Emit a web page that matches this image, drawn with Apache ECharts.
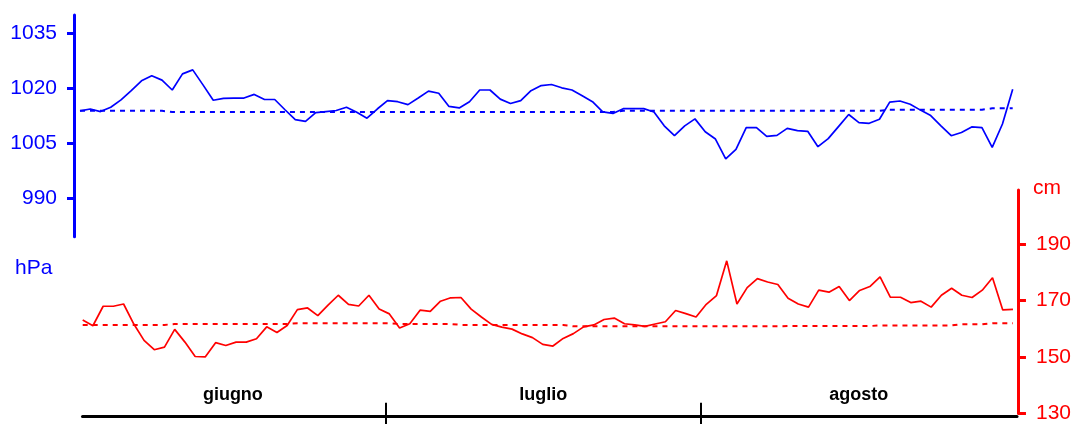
<!DOCTYPE html>
<html>
<head>
<meta charset="utf-8">
<title>Pressione e livello di marea – giugno-agosto</title>
<script src="https://cdn.jsdelivr.net/npm/echarts@6/dist/echarts.min.js"></script>
<style>
  html, body { margin: 0; padding: 0; background: #ffffff; }
  #chart { width: 1074px; height: 424px; }
</style>
</head>
<body>
<div id="chart"></div>
<script>
// Months shown on the time axis and their lengths in days
const months = ['giugno', 'luglio', 'agosto'];
const monthDays = [30, 31, 31];

// Daily atmospheric pressure (hPa), 1 June – 31 August
const pressure = [
  1013.8, 1014.3, 1013.6, 1014.8, 1016.8, 1019.3, 1022.0, 1023.4, 1022.2, 1019.5,
  1023.9, 1025.0, 1020.9, 1016.7, 1017.2, 1017.3, 1017.3, 1018.3, 1016.9, 1016.9,
  1014.1, 1011.4, 1010.9, 1013.3, 1013.6, 1013.9, 1014.8, 1013.4, 1011.8, 1014.3,
  1016.6, 1016.3, 1015.5, 1017.3, 1019.2, 1018.6, 1015.0, 1014.6, 1016.3, 1019.5,
  1019.5, 1017.0, 1015.8, 1016.6, 1019.3, 1020.7, 1021.0, 1020.1, 1019.5, 1017.9,
  1016.3, 1013.5, 1013.1, 1014.4, 1014.4, 1014.4, 1013.5, 1009.7, 1007.0, 1009.7,
  1011.6, 1008.1, 1006.1, 1000.7, 1003.3, 1009.2, 1009.2, 1006.8, 1007.1, 1009.0,
  1008.4, 1008.2, 1004.0, 1006.2, 1009.5, 1012.8, 1010.6, 1010.4, 1011.5, 1016.2,
  1016.5, 1015.6, 1014.0, 1012.5, 1009.7, 1007.0, 1007.9, 1009.4, 1009.2, 1003.8,
  1010.2, 1019.7
];

// Daily climatological pressure (hPa)
const pressureNormal = [
  1013.8, 1013.8, 1013.8, 1013.8, 1013.8, 1013.8, 1013.8, 1013.8, 1013.8, 1013.5,
  1013.5, 1013.5, 1013.5, 1013.5, 1013.5, 1013.5, 1013.5, 1013.5, 1013.5, 1013.5,
  1013.5, 1013.5, 1013.5, 1013.5, 1013.5, 1013.5, 1013.5, 1013.5, 1013.5, 1013.5,
  1013.5, 1013.5, 1013.5, 1013.5, 1013.5, 1013.5, 1013.5, 1013.5, 1013.5, 1013.5,
  1013.5, 1013.5, 1013.5, 1013.5, 1013.5, 1013.5, 1013.5, 1013.5, 1013.5, 1013.5,
  1013.5, 1013.5, 1013.5, 1013.8, 1013.8, 1013.8, 1013.8, 1013.8, 1013.8, 1013.8,
  1013.8, 1013.8, 1013.8, 1013.8, 1013.8, 1013.8, 1013.8, 1013.8, 1013.8, 1013.8,
  1013.8, 1013.8, 1013.8, 1013.8, 1013.8, 1013.8, 1013.8, 1013.8, 1013.8, 1014.1,
  1014.1, 1014.1, 1014.1, 1014.1, 1014.1, 1014.1, 1014.1, 1014.1, 1014.1, 1014.5,
  1014.5, 1014.5
];

// Daily mean sea level (cm)
const level = [
  163.1, 161.1, 168.0, 168.0, 168.8, 161.7, 155.9, 152.6, 153.5, 159.8,
  155.3, 150.2, 150.1, 155.1, 154.1, 155.3, 155.3, 156.5, 160.7, 158.7,
  161.2, 166.8, 167.4, 164.7, 168.4, 171.9, 168.7, 168.1, 171.9, 167.0,
  165.3, 160.3, 161.8, 166.6, 166.2, 169.8, 171.0, 171.1, 167.0, 164.2,
  161.6, 160.6, 159.9, 158.2, 156.9, 154.5, 153.9, 156.6, 158.3, 160.7,
  161.4, 163.3, 163.8, 161.8, 161.4, 160.9, 161.7, 162.5, 166.5, 165.4,
  164.2, 168.7, 171.8, 184.1, 168.8, 174.6, 177.8, 176.6, 175.7, 170.8,
  168.8, 167.7, 173.7, 173.0, 175.0, 170.0, 173.6, 175.0, 178.4, 171.2,
  171.2, 169.3, 169.8, 167.7, 171.9, 174.4, 171.9, 171.1, 173.7, 178.1,
  166.7, 166.9
];

// Daily climatological sea level (cm)
const levelNormal = [
  161.4, 161.4, 161.4, 161.4, 161.4, 161.4, 161.4, 161.4, 161.4, 161.7,
  161.7, 161.7, 161.7, 161.7, 161.7, 161.7, 161.7, 161.7, 161.7, 161.7,
  161.7, 162.0, 162.0, 162.0, 162.0, 162.0, 162.0, 162.0, 162.0, 162.0,
  162.0, 161.7, 161.7, 161.7, 161.7, 161.7, 161.7, 161.4, 161.4, 161.4,
  161.4, 161.4, 161.4, 161.4, 161.4, 161.4, 161.4, 161.4, 160.9, 160.9,
  160.9, 160.9, 160.9, 160.9, 160.9, 160.9, 160.9, 160.9, 160.9, 160.9,
  160.9, 160.9, 160.9, 160.9, 160.9, 160.9, 160.9, 160.9, 160.9, 161.0,
  161.0, 161.0, 161.0, 161.0, 161.0, 161.0, 161.0, 161.0, 161.2, 161.2,
  161.2, 161.2, 161.2, 161.2, 161.2, 161.2, 161.6, 161.6, 161.6, 162.0,
  162.0, 162.0
];

// Axis tick values
const pressureTicks = [990, 1005, 1020, 1035];
const levelTicks = [130, 150, 170, 190];

const BLUE = '#0000ff';
const RED = '#ff0000';
const FONT = '"Liberation Sans", Arial, Helvetica, sans-serif';

// Month boundaries and month centres in day units
const monthEdges = [];
const monthCentres = [];
let acc = 0;
monthDays.forEach((d, i) => {
  monthCentres.push(acc + d / 2);
  acc += d;
  if (i < monthDays.length - 1) monthEdges.push(acc);
});
const totalDays = acc;

const asPairs = arr => arr.map((v, i) => [i, v]);
const monthName = v => {
  const k = monthCentres.findIndex(c => Math.abs(c - v) < 0.01);
  return k >= 0 ? months[k] : '';
};

const chart = echarts.init(document.getElementById('chart'), null, { renderer: 'canvas' });

chart.setOption({
  animation: false,
  backgroundColor: '#ffffff',
  textStyle: { fontFamily: FONT },
  grid: [
    // pressure panel
    { left: 80, right: 61.3, top: 15, height: 221.7 },
    // sea-level panel
    { left: 82.7, right: 61, top: 190, bottom: 7.3 },
    // calendar scale (month ticks and names)
    { left: 80.2, right: 57.4, top: 190, bottom: 7.3 },
    // baseline of the time axis
    { left: 82.5, right: 57, top: 190, bottom: 7.3 }
  ],
  xAxis: [
    { gridIndex: 0, type: 'value', min: 0, max: pressure.length - 1, show: false },
    { gridIndex: 1, type: 'value', min: 0, max: level.length - 1, show: false },
    {
      gridIndex: 2, type: 'value', min: 0, max: totalDays, position: 'bottom',
      axisLine: { show: false, onZero: false },
      axisTick: { show: true, inside: true, length: 14, customValues: monthEdges,
                  lineStyle: { color: '#000000', width: 2 } },
      axisLabel: {
        show: true, inside: true, margin: 22, customValues: monthCentres,
        formatter: monthName,
        color: '#000000', fontSize: 18, fontWeight: 'bold', fontFamily: FONT,
        verticalAlign: 'middle', showMinLabel: true, showMaxLabel: true
      },
      splitLine: { show: false }
    },
    {
      gridIndex: 2, type: 'value', min: 0, max: totalDays, position: 'bottom',
      axisLine: { show: false, onZero: false },
      axisTick: { show: true, inside: false, length: 8, customValues: monthEdges,
                  lineStyle: { color: '#000000', width: 2 } },
      axisLabel: { show: false },
      splitLine: { show: false }
    },
    {
      gridIndex: 3, type: 'value', min: 0, max: totalDays, position: 'bottom',
      axisLine: { show: true, onZero: false, lineStyle: { color: '#000000', width: 3 } },
      axisTick: { show: false },
      axisLabel: { show: false },
      splitLine: { show: false }
    }
  ],
  yAxis: [
    {
      gridIndex: 0, type: 'value', position: 'left', offset: 6,
      min: 979.4, max: 1040,
      axisLine: { show: true, onZero: false, lineStyle: { color: BLUE, width: 3 } },
      axisTick: { show: true, length: 7, customValues: pressureTicks,
                  lineStyle: { color: BLUE, width: 3 } },
      axisLabel: { show: true, customValues: pressureTicks, margin: 17,
                   formatter: v => String(v),
                   color: BLUE, fontSize: 21, fontFamily: FONT },
      splitLine: { show: false }
    },
    {
      gridIndex: 1, type: 'value', position: 'right', offset: 5,
      min: 130, max: 209.2,
      axisLine: { show: true, onZero: false, lineStyle: { color: RED, width: 3 } },
      axisTick: { show: true, length: 8, customValues: levelTicks,
                  lineStyle: { color: RED, width: 3 } },
      axisLabel: { show: true, customValues: levelTicks, margin: 18,
                   formatter: v => String(v),
                   color: RED, fontSize: 21, fontFamily: FONT },
      splitLine: { show: false }
    },
    { gridIndex: 2, type: 'value', min: 0, max: 1, show: false },
    { gridIndex: 3, type: 'value', min: 0, max: 1, show: false }
  ],
  graphic: [
    { type: 'text', x: 15, y: 268,
      style: { text: 'hPa', fill: BLUE, font: '21px ' + FONT, verticalAlign: 'middle' } },
    { type: 'text', x: 1033, y: 188,
      style: { text: 'cm', fill: RED, font: '21px ' + FONT, verticalAlign: 'middle' } }
  ],
  series: [
    {
      name: 'pressione normale', type: 'line', xAxisIndex: 0, yAxisIndex: 0,
      data: asPairs(pressureNormal), showSymbol: false, silent: true,
      lineStyle: { color: BLUE, width: 2, type: [5, 5] }
    },
    {
      name: 'pressione', type: 'line', xAxisIndex: 0, yAxisIndex: 0,
      data: asPairs(pressure), showSymbol: false, silent: true,
      lineStyle: { color: BLUE, width: 1.7 }
    },
    {
      name: 'livello normale', type: 'line', xAxisIndex: 1, yAxisIndex: 1,
      data: asPairs(levelNormal), showSymbol: false, silent: true,
      lineStyle: { color: RED, width: 2, type: [5, 5] }
    },
    {
      name: 'livello', type: 'line', xAxisIndex: 1, yAxisIndex: 1,
      data: asPairs(level), showSymbol: false, silent: true,
      lineStyle: { color: RED, width: 1.7 }
    }
  ]
});
</script>
</body>
</html>
